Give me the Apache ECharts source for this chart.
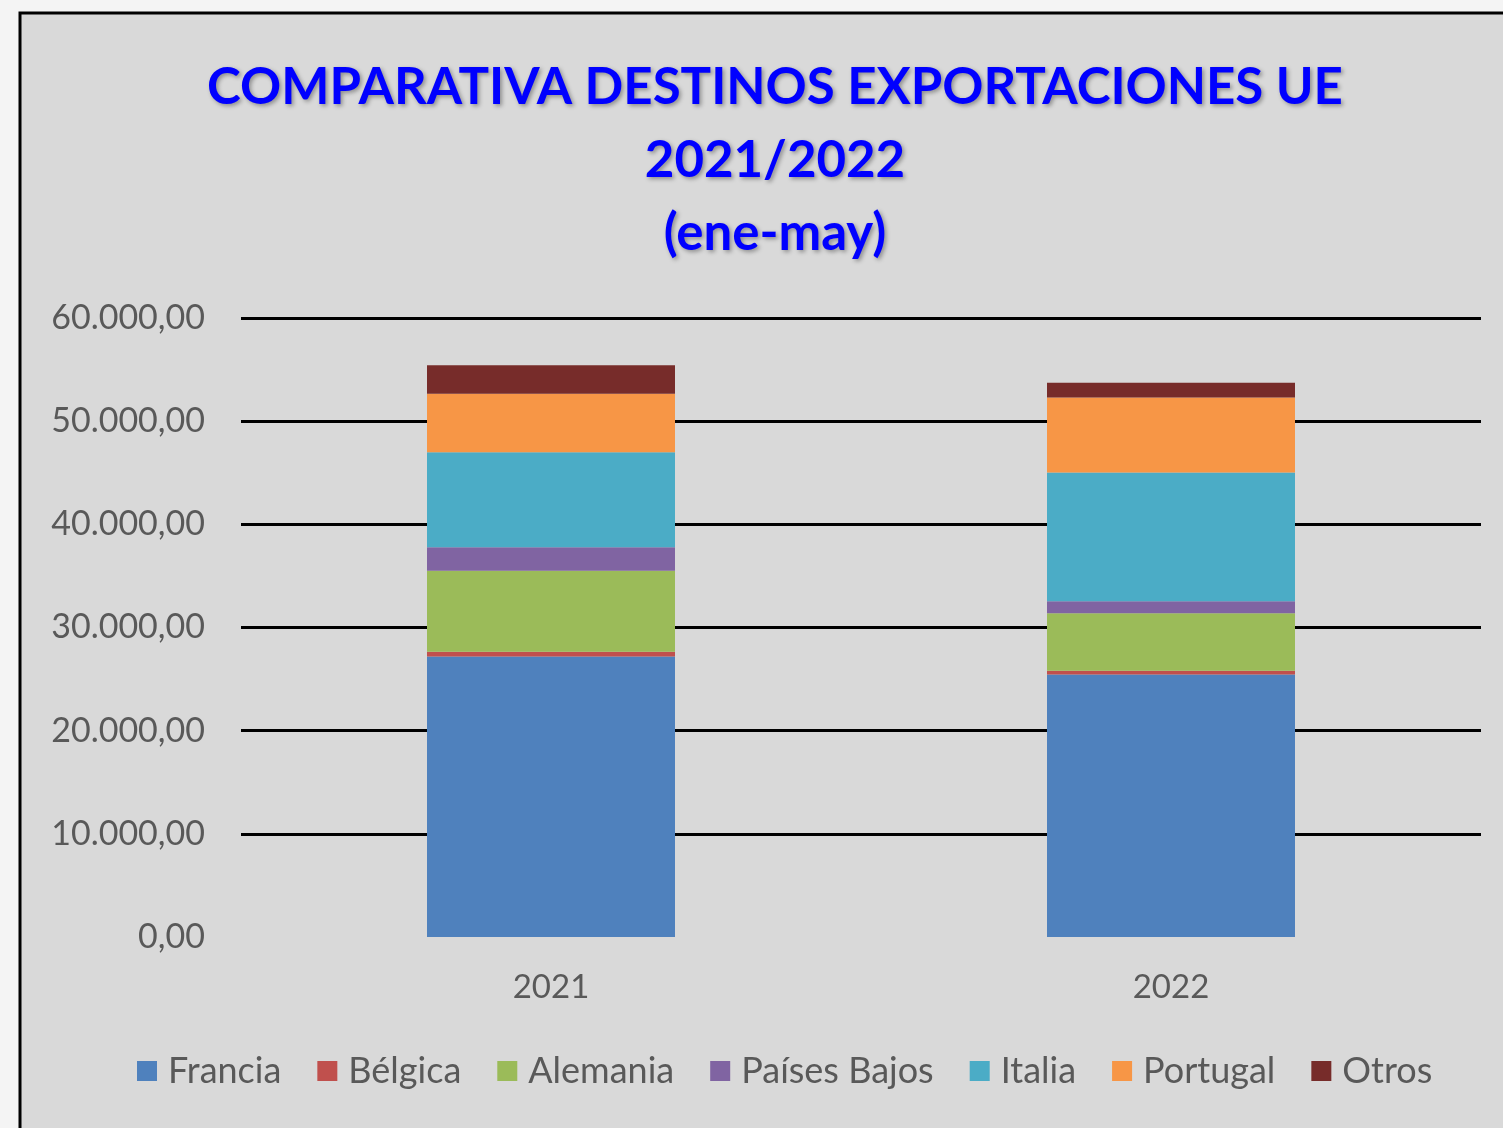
<!DOCTYPE html>
<html>
<head>
<meta charset="utf-8">
<script src="https://cdn.jsdelivr.net/npm/echarts@6/dist/echarts.min.js"></script>
<style>
  html, body { margin: 0; padding: 0; background: #f4f4f4; }
  #chart { width: 1503px; height: 1128px; }
</style>
</head>
<body>
<div id="chart"></div>
<script>
var years = ['2021', '2022'];
var francia = [27200, 25450];
var belgica = [450, 360];
var alemania = [7860, 5560];
var paisesBajos = [2260, 1165];
var italia = [9215, 12480];
var portugal = [5665, 7275];
var otros = [2775, 1425];
var yTicks = [0, 10000, 20000, 30000, 40000, 50000, 60000];

var seriesDefs = [
    { name: 'Francia', data: francia, color: '#4f81bd' },
    { name: 'Bélgica', data: belgica, color: '#c0504d' },
    { name: 'Alemania', data: alemania, color: '#9bbb59' },
    { name: 'Países Bajos', data: paisesBajos, color: '#8064a2' },
    { name: 'Italia', data: italia, color: '#4bacc6' },
    { name: 'Portugal', data: portugal, color: '#f79646' },
    { name: 'Otros', data: otros, color: '#772c2a' }
];

function fmtEs(v) {
    var s = Math.round(v).toString().replace(/\B(?=(\d{3})+(?!\d))/g, '.');
    return s + ',00';
}

var myChart = echarts.init(document.getElementById('chart'));
var option = {
    backgroundColor: '#f4f4f4',
    animation: false,
    textStyle: { fontFamily: 'Lato' },
    graphic: [{
        type: 'rect',
        z: -10,
        shape: { x: 20, y: 13, width: 1520, height: 1140 },
        style: { fill: '#d9d9d9', stroke: '#000', lineWidth: 3 }
    }],
    title: {
        text: 'COMPARATIVA DESTINOS EXPORTACIONES UE\n2021/2022\n(ene-may)',
        left: 770,
        textAlign: 'center',
        top: 46,
        textStyle: {
            color: '#0000ff',
            fontFamily: 'Lato',
            fontWeight: 'bold',
            fontSize: 51,
            lineHeight: 73,
            textShadowColor: 'rgba(0,0,0,0.35)',
            textShadowBlur: 4,
            textShadowOffsetX: 2,
            textShadowOffsetY: 2
        }
    },
    legend: {
        bottom: 34,
        left: 132,
        itemWidth: 20,
        itemHeight: 20,
        itemGap: 36,
        icon: 'rect',
        textStyle: { color: '#595959', fontSize: 36, fontFamily: 'Lato', padding: [0, 0, 0, 6] },
        data: seriesDefs.map(function (s) { return s.name; })
    },
    grid: {
        left: 241,
        right: 22,
        top: 318,
        bottom: 191
    },
    xAxis: {
        type: 'category',
        data: years,
        axisLine: { show: false },
        axisTick: { show: false },
        axisLabel: { color: '#595959', fontSize: 33, margin: 34 }
    },
    yAxis: {
        type: 'value',
        min: yTicks[0],
        max: yTicks[yTicks.length - 1],
        interval: 10000,
        axisLine: { show: false },
        axisTick: { show: false },
        axisLabel: { color: '#595959', fontSize: 34, margin: 36, formatter: fmtEs },
        splitLine: { showMinLine: false, lineStyle: { color: '#000', width: 3 } }
    },
    series: seriesDefs.map(function (s) {
        return {
            name: s.name,
            type: 'bar',
            stack: 'total',
            barWidth: '40%',
            data: s.data,
            itemStyle: { color: s.color }
        };
    })
};
myChart.setOption(option);
</script>
</body>
</html>
